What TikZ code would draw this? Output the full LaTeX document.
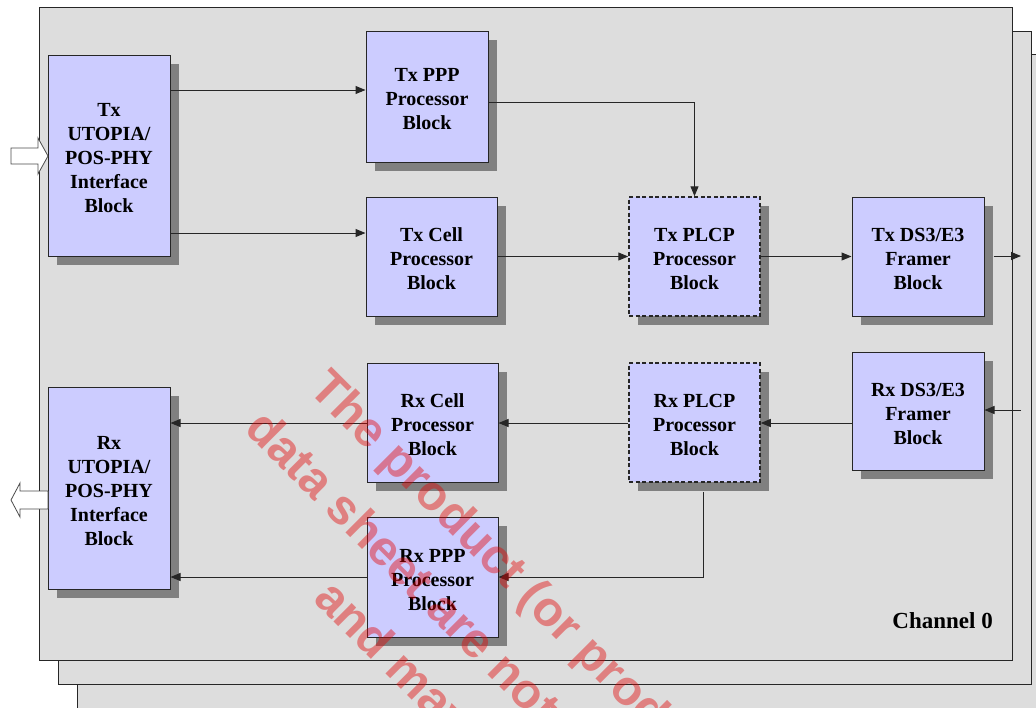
\documentclass[tikz,border=0pt]{standalone}
\usepackage{fontspec}
\setmainfont{Liberation Serif}
\newfontfamily\wmfont{Liberation Sans}
\usetikzlibrary{arrows.meta,shadows}
\definecolor{panelgray}{HTML}{DDDDDD}
\definecolor{boxblue}{HTML}{CCCCFF}
\definecolor{shadowgray}{HTML}{808080}
\definecolor{wmred}{RGB}{228,0,0}
\newcommand\topstrut{\rule{0pt}{19pt}}
\begin{document}
\begin{tikzpicture}[x=1pt,y=-1pt,
  panel/.style={fill=panelgray,draw=black!85,line width=1pt},
  blk/.style={fill=boxblue,draw=black!85,line width=1pt,inner sep=0pt,align=center,
    font=\fontsize{20}{24}\selectfont\bfseries,
    drop shadow={shadow xshift=9pt,shadow yshift=-9pt,fill=shadowgray,opacity=1}},
  dblk/.style={blk,line width=1.5pt,dash pattern=on 4pt off 2.5pt},
  arr/.style={line width=1pt,draw=black!85,-{Triangle[length=10pt,width=8pt]}},
  hollow/.style={fill=white,draw=black!70,line width=0.8pt},
  wm/.style={rotate=-45,anchor=base west,inner sep=0pt,text=wmred,text opacity=0.42,
    font=\wmfont\bfseries\fontsize{49}{56}\selectfont}
]
\useasboundingbox (0,0) rectangle (1036,707);
\clip (0,0) rectangle (1036,707);
% layered panels
\path[panel] (77,54) rectangle (1070,740);
\path[panel] (58,31) rectangle (1031,684);
\path[panel] (39,7) rectangle (1012,660);

% blocks
\node[blk,minimum width=122pt,minimum height=201pt] (txutopia) at (109,155.5) {\topstrut Tx\\UTOPIA/\\POS-PHY\\Interface\\Block};
\node[blk,minimum width=122pt,minimum height=131pt] (txppp) at (427,96.5) {\topstrut Tx PPP\\Processor\\Block};
\node[blk,minimum width=131pt,minimum height=119pt] (txcell) at (431.5,256.5) {\topstrut Tx Cell\\Processor\\Block};
\node[dblk,minimum width=131pt,minimum height=119pt] (txplcp) at (694.5,256.5) {\topstrut Tx PLCP\\Processor\\Block};
\node[blk,minimum width=132pt,minimum height=119pt] (txds3) at (918,256.5) {\topstrut Tx DS3/E3\\Framer\\Block};
\node[blk,minimum width=132pt,minimum height=118pt] (rxds3) at (918,411) {\topstrut Rx DS3/E3\\Framer\\Block};
\node[dblk,minimum width=131pt,minimum height=119pt] (rxplcp) at (694.5,422.5) {\topstrut Rx PLCP\\Processor\\Block};
\node[blk,minimum width=131pt,minimum height=119pt] (rxcell) at (432.5,422.5) {\topstrut Rx Cell\\Processor\\Block};
\node[blk,minimum width=131pt,minimum height=120pt] (rxppp) at (432.5,577) {\topstrut Rx PPP\\Processor\\Block};
\node[blk,minimum width=122pt,minimum height=202pt] (rxutopia) at (109,488) {\topstrut Rx\\UTOPIA/\\POS-PHY\\Interface\\Block};

\node[anchor=base east,inner sep=0pt,font=\fontsize{23}{27}\selectfont\bfseries] (chan) at (993,628) {Channel 0};

% connectors
\coordinate (txout) at (1021,256);
\coordinate (rxin) at (1021,410);
\draw[arr] (txutopia.east |- 0,90) -- (txppp.west |- 0,90);
\draw[arr] (txutopia.east |- 0,233) -- (txcell.west |- 0,233);
\draw[arr] (txppp.east |- 0,102) -| (txplcp.north);
\draw[arr] (txcell.east) -- (txplcp.west);
\draw[arr] (txplcp.east) -- (txds3.west);
\draw[arr] ([xshift=9pt]txds3.east |- txout) -- (txout);
\draw[arr] (rxin) -- (rxds3.east |- rxin);
\draw[arr] (rxds3.west |- 0,423) -- (rxplcp.east |- 0,423);
\draw[arr] (rxplcp.west |- 0,423) -- (rxcell.east |- 0,423);
\draw[arr] (rxcell.west |- 0,423) -- (rxutopia.east |- 0,423);
\draw[arr] ([xshift=9pt,yshift=-9pt]rxplcp.south) |- (rxppp.east);
\draw[arr] (rxppp.west) -- (rxutopia.east |- rxppp.west);

% hollow block arrows
\draw[hollow] (11,148) -- (38,148) -- (38,138) -- (48,156) -- (38,174) -- (38,164) -- (11,164) -- cycle;
\draw[hollow] (48,491) -- (20,491) -- (20,483) -- (11,500) -- (20,517) -- (20,509) -- (48,509) -- cycle;

% watermark
\node[wm] (wm1) at (307,390) {The product (or products)};
\node[wm] (wm2) at (243,430) {data sheet are not};
\node[wm] (wm3) at (312,600) {and may};
\end{tikzpicture}
\end{document}
